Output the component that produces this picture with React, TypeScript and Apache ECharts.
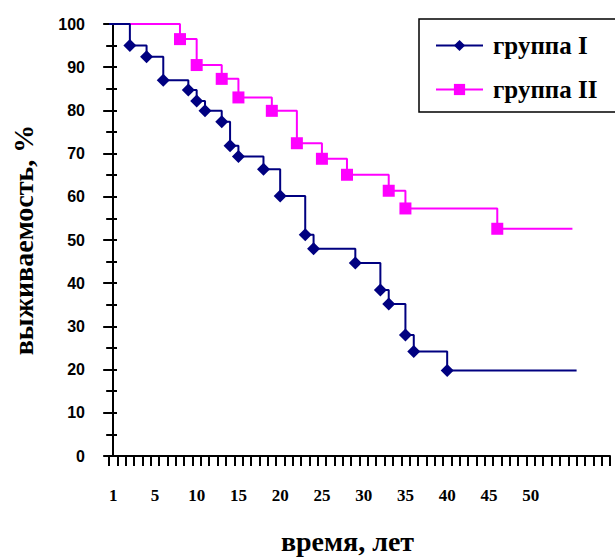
import React, { useEffect, useRef } from "react";
import * as echarts from "echarts";

// Kaplan–Meier survival data
const group1Name = "группа I";
const group1Times = [2, 4, 6, 9, 10, 11, 13, 14, 15, 18, 20, 23, 24, 29, 32, 33, 35, 36, 40];
const group1Surv = [95, 92.4, 87, 84.7, 82.2, 79.9, 77.4, 71.8, 69.3, 66.4, 60.2, 51.2, 48, 44.7, 38.4, 35.2, 28, 24.2, 19.8];
const group1Start = -0.5;
const group1End = 55.5;

const group2Name = "группа II";
const group2Times = [8, 10, 13, 15, 19, 22, 25, 28, 33, 35, 46];
const group2Surv = [96.5, 90.5, 87.3, 83, 79.9, 72.4, 68.8, 65.1, 61.4, 57.3, 52.6];
const group2Start = -0.5;
const group2End = 55;

// Axis tick labels
const xCategoryCount = 60;
const xTickLabels = ["1", "5", "10", "15", "20", "25", "30", "35", "40", "45", "50"];
const yTickLabels = ["0", "10", "20", "30", "40", "50", "60", "70", "80", "90", "100"];

const xTitle = "время, лет";
const yTitle = "выживаемость, %";

function buildSeriesData(times: number[], surv: number[], start: number, end: number) {
  const data: any[] = [{ value: [start, 100], symbol: "none" }];
  times.forEach((t, i) => data.push({ value: [t, surv[i]] }));
  data.push({ value: [end, surv[surv.length - 1]], symbol: "none" });
  return data;
}

export default function App() {
  const ref = useRef<HTMLDivElement>(null);
  useEffect(() => {
    if (!ref.current) return;
    const chart = echarts.init(ref.current, null, { renderer: "svg" });
    const categories = Array.from({ length: xCategoryCount }, (_, i) => String(i));
    chart.setOption({
      animation: false,
      backgroundColor: "#ffffff",
      grid: { left: 109, right: 5, top: 24, bottom: 103, containLabel: false, outerBoundsMode: "none" },
      legend: {
        orient: "vertical",
        left: 419,
        top: 19,
        padding: [14, 60, 10, 16],
        borderColor: "#000000",
        borderWidth: 1.5,
        itemWidth: 47,
        itemHeight: 14,
        itemGap: 19,
        textStyle: {
          fontFamily: "Liberation Serif",
          fontWeight: "bold",
          fontSize: 25,
          color: "#000000",
          lineHeight: 24,
          padding: [0, 0, 0, 5],
        },
        data: [group1Name, group2Name],
      },
      xAxis: [
        {
          type: "value",
          position: "bottom",
          min: -0.5,
          max: xCategoryCount - 0.5,
          interval: 1,
          axisLine: { show: true, onZero: false, lineStyle: { color: "#000000", width: 2 } },
          axisTick: { show: false },
          axisLabel: { show: false },
          splitLine: { show: false },
        },
        {
          type: "category",
          position: "bottom",
          data: categories,
          boundaryGap: true,
          axisLine: { show: false },
          axisTick: { show: true, interval: 0, length: 10, lineStyle: { color: "#000000", width: 2 } },
          axisLabel: {
            interval: (idx: number) => idx % 5 === 0,
            formatter: (_v: string, idx: number) => xTickLabels[idx / 5] ?? "",
            margin: 31,
            fontFamily: "Liberation Serif",
            fontWeight: "bold",
            fontSize: 17,
            color: "#000000",
          },
          splitLine: { show: false },
          name: xTitle,
          nameLocation: "middle",
          nameGap: 71,
          nameTextStyle: {
            fontFamily: "Liberation Serif",
            fontWeight: "bold",
            fontSize: 28,
            color: "#000000",
            padding: [0, 24, 0, 0],
          },
        },
      ],
      yAxis: [
        {
          type: "value",
          position: "left",
          min: 0,
          max: 100,
          interval: 10,
          axisLine: { show: true, lineStyle: { color: "#000000", width: 2 } },
          axisTick: { show: true, length: 10, lineStyle: { color: "#000000", width: 2 } },
          minorTick: { show: true, splitNumber: 2, length: 7, lineStyle: { color: "#000000", width: 2 } },
          axisLabel: {
            formatter: (v: number) => yTickLabels[Math.round(v / 10)] ?? "",
            margin: 24,
            fontFamily: "Liberation Sans",
            fontWeight: "bold",
            fontSize: 16,
            color: "#000000",
          },
          splitLine: { show: false },
          name: yTitle,
          nameLocation: "middle",
          nameRotate: 90,
          nameGap: 72,
          nameTextStyle: {
            fontFamily: "Liberation Serif",
            fontWeight: "bold",
            fontSize: 28,
            color: "#000000",
          },
        },
        {
          type: "value",
          position: "left",
          min: 0,
          max: 100,
          interval: 5,
          axisLine: { show: false },
          axisTick: { show: true, inside: true, length: 8, lineStyle: { color: "#000000", width: 2 } },
          axisLabel: { show: false },
          splitLine: { show: false },
        },
      ],
      series: [
        {
          name: group1Name,
          type: "line",
          xAxisIndex: 0,
          yAxisIndex: 0,
          step: "end",
          data: buildSeriesData(group1Times, group1Surv, group1Start, group1End),
          symbol: "diamond",
          symbolSize: 13,
          showAllSymbol: true,
          lineStyle: { color: "#000080", width: 2 },
          itemStyle: { color: "#000080" },
          z: 3,
        },
        {
          name: group2Name,
          type: "line",
          xAxisIndex: 0,
          yAxisIndex: 0,
          step: "end",
          data: buildSeriesData(group2Times, group2Surv, group2Start, group2End),
          symbol: "rect",
          symbolSize: 12,
          showAllSymbol: true,
          lineStyle: { color: "#FF00FF", width: 2 },
          itemStyle: { color: "#FF00FF" },
          z: 2,
        },
      ],
    });
    return () => chart.dispose();
  }, []);
  return (
    <div
      ref={ref}
      style={{ position: "fixed", left: 0, top: 0, width: 615, height: 559 }}
    />
  );
}
